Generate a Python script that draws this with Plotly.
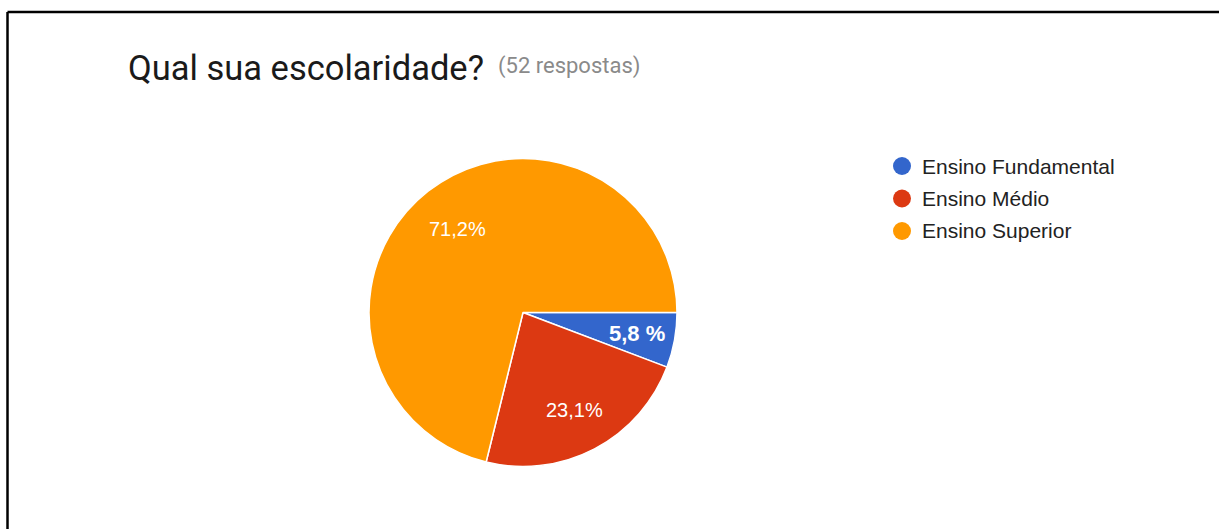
import math
import plotly.graph_objects as go

W, H = 1219, 529

# ---- data ----
categories = ["Ensino Fundamental", "Ensino Médio", "Ensino Superior"]
counts = [3, 12, 37]
slice_labels = ["5,8 %", "23,1%", "71,2%"]
colors = ["#3366CC", "#DC3912", "#FF9900"]
title_text = "Qual sua escolaridade?"
subtitle_text = "(52 respostas)"

# ---- styling / layout ----
cx, cy, r = 523, 312.5, 154          # pie centre / radius in px
label_radius = [0.75, 0.715, 0.69]
label_bold = [True, False, False]
label_size = [22, 20, 20]

def px(x):
    return x / W

def py(y):
    return 1 - y / H

fig = go.Figure()
fig.add_trace(go.Pie(
    labels=categories,
    values=counts,
    sort=False,
    direction="clockwise",
    rotation=90,
    marker=dict(colors=colors, line=dict(color="white", width=1.5)),
    textinfo="none",
    hoverinfo="label+percent",
    showlegend=False,
    domain=dict(x=[px(cx - r), px(cx + r)], y=[py(cy + r), py(cy - r)]),
))

annotations = []
shapes = []

# slice labels, placed along each slice's mid-angle
total = sum(counts)
cum = 0
for i, v in enumerate(counts):
    mid = (cum + v / 2) / total * 2 * math.pi
    cum += v
    lx = cx + label_radius[i] * r * math.cos(mid)
    ly = cy + label_radius[i] * r * math.sin(mid)
    txt = f"<b>{slice_labels[i]}</b>" if label_bold[i] else slice_labels[i]
    annotations.append(dict(
        x=px(lx), y=py(ly), xref="paper", yref="paper", text=txt,
        showarrow=False, xanchor="center", yanchor="middle",
        font=dict(family="Liberation Sans, Arial", size=label_size[i], color="white"),
    ))

# title
annotations.append(dict(
    x=px(126), y=py(68), xref="paper", yref="paper", text=title_text,
    showarrow=False, xanchor="left", yanchor="middle",
    font=dict(family="Roboto", size=34.5, color="#1a1a1a"),
))
annotations.append(dict(
    x=px(496), y=py(66), xref="paper", yref="paper", text=subtitle_text,
    showarrow=False, xanchor="left", yanchor="middle",
    font=dict(family="Roboto", size=22, color="#8a8a8a"),
))

# legend (circle markers + text)
leg_x, leg_y0, leg_dy = 902, 166, 32.5
for i, cat in enumerate(categories):
    yy = leg_y0 + i * leg_dy
    shapes.append(dict(
        type="circle", xref="paper", yref="paper",
        xsizemode="pixel", ysizemode="pixel",
        xanchor=px(leg_x), yanchor=py(yy),
        x0=-9, x1=9, y0=-9, y1=9,
        fillcolor=colors[i], line=dict(width=0),
    ))
    annotations.append(dict(
        x=px(leg_x + 18), y=py(yy), xref="paper", yref="paper", text=cat,
        showarrow=False, xanchor="left", yanchor="middle",
        font=dict(family="Liberation Sans, Arial", size=21, color="#222222"),
    ))

# frame lines (top and left)
shapes.append(dict(type="line", xref="paper", yref="paper",
                   x0=px(7.5), x1=1, y0=py(12), y1=py(12),
                   line=dict(color="black", width=2.5)))
shapes.append(dict(type="line", xref="paper", yref="paper",
                   x0=px(7.5), x1=px(7.5), y0=py(12), y1=0,
                   line=dict(color="black", width=2.5)))

fig.update_layout(
    width=W, height=H, autosize=False,
    margin=dict(l=0, r=0, t=0, b=0, pad=0),
    paper_bgcolor="white", plot_bgcolor="white",
    annotations=annotations, shapes=shapes,
)

fig.write_html("out.html")
